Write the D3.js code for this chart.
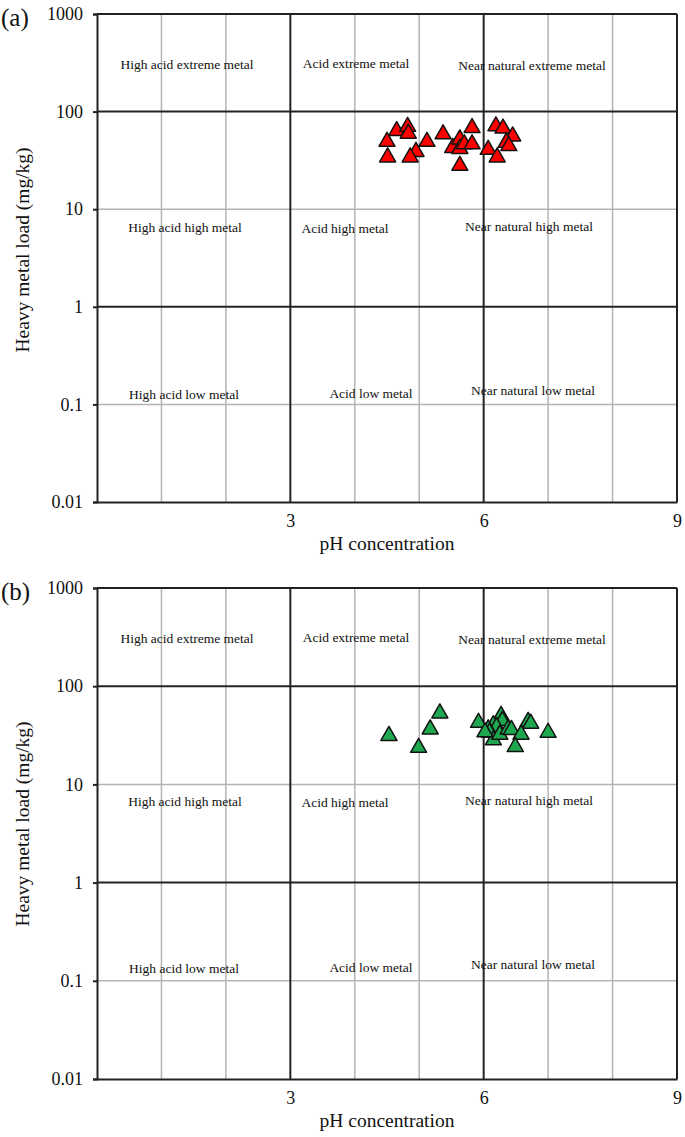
<!DOCTYPE html>
<html>
<head>
<meta charset="utf-8">
<script src="https://cdn.jsdelivr.net/npm/d3@7"></script>
<style>
  html, body { margin: 0; padding: 0; background: #fff; }
  svg { display: block; }
  text { font-family: "Liberation Serif", "Times New Roman", serif; fill: #111; }
</style>
</head>
<body>
<svg id="chart" width="685" height="1137"></svg>
<script>
// ---------------- data ----------------
const panelLetters = ["(a)", "(b)"];
const xTicks = [3, 6, 9];
const yTicks = [0.01, 0.1, 1, 10, 100, 1000];
const yTickLabels = ["0.01", "0.1", "1", "10", "100", "1000"];
const xMinorGrid = [1, 2, 4, 5, 7, 8];
const xMajorGrid = [3, 6, 9];
const yMinorGrid = [0.1, 10];
const yMajorGrid = [1, 100, 1000];
const xTitle = "pH concentration";
const yTitle = "Heavy metal load (mg/kg)";

const zoneLabels = [
  "High acid extreme metal", "Acid extreme metal", "Near natural extreme metal",
  "High acid high metal", "Acid high metal", "Near natural high metal",
  "High acid low metal", "Acid low metal", "Near natural low metal"
];

// panel (a) - red
const phA =    [4.50, 4.51, 4.65, 4.82, 4.83, 4.95, 4.86, 5.12, 5.37, 5.52, 5.63, 5.63, 5.63, 5.70, 5.82, 5.82, 6.19, 6.30, 6.45, 6.35, 6.39, 6.07, 6.21];
const metalA = [52,   36,   67,   74,   63,   41,   36,   52,   62,   45,   55,   44,   29.5, 49,   72,   49,   75,   71,   59,   51,   47,   43,   36];

// panel (b) - green
const phB =    [4.53, 4.99, 5.17, 5.32, 5.92, 6.27, 6.29, 6.15, 6.20, 6.07, 6.09, 6.15, 6.25, 6.38, 6.43, 6.69, 6.73, 6.58, 6.49, 7.00, 6.02];
const metalB = [33,   25,   38.5, 56,   45,   53,   47,   42.5, 40.6, 38.5, 35.6, 29.8, 34,   38.5, 38,   46,   44,   34,   25.5, 35.6, 36];

// ---------------- layout ----------------
const svg = d3.select("#chart");
const left = 97, right = 677;
const panels = [
  { top: 14,  bottom: 502,  ph: phA, metal: metalA, fill: "#ff0000" },
  { top: 588, bottom: 1079, ph: phB, metal: metalB, fill: "#1fa750" }
];
// zone label placement: [x in px, offset from top]
const zonePos = [
  [187, 50], [356, 49], [532, 51],
  [185, 213], [345, 214], [529, 212],
  [184, 380], [371, 379], [533, 376]
];

const triPath = (() => {
  const p = d3.path();
  p.moveTo(0, -7); p.lineTo(8, 7); p.lineTo(-8, 7); p.closePath();
  return p.toString();
})();

panels.forEach((P, i) => {
  const g = svg.append("g");
  const x = d3.scaleLinear().domain([0, 9]).range([left, right]);
  const y = d3.scaleLog().domain([0.01, 1000]).range([P.bottom, P.top]);

  // minor grid
  g.selectAll(".vmin").data(xMinorGrid).join("line")
    .attr("x1", d => x(d)).attr("x2", d => x(d))
    .attr("y1", P.top).attr("y2", P.bottom)
    .attr("stroke", "#b4b4b4").attr("stroke-width", 1.5);
  g.selectAll(".hmin").data(yMinorGrid).join("line")
    .attr("x1", left).attr("x2", right)
    .attr("y1", d => y(d)).attr("y2", d => y(d))
    .attr("stroke", "#b4b4b4").attr("stroke-width", 1.5);
  // major grid
  g.selectAll(".vmaj").data(xMajorGrid).join("line")
    .attr("x1", d => x(d)).attr("x2", d => x(d))
    .attr("y1", P.top).attr("y2", P.bottom)
    .attr("stroke", "#222").attr("stroke-width", 2);
  g.selectAll(".hmaj").data(yMajorGrid).join("line")
    .attr("x1", left).attr("x2", right)
    .attr("y1", d => y(d)).attr("y2", d => y(d))
    .attr("stroke", "#222").attr("stroke-width", 2);

  // y axis
  const yAxis = d3.axisLeft(y).tickValues(yTicks)
    .tickFormat((d, k) => yTickLabels[k]).tickSize(4).tickPadding(10);
  const ya = g.append("g").attr("transform", `translate(${left},0)`).call(yAxis);
  ya.select(".domain").attr("stroke", "#222").attr("stroke-width", 2);
  ya.selectAll(".tick line").attr("stroke", "#222").attr("stroke-width", 2);
  ya.selectAll(".tick text").style("font-family", "Liberation Serif, serif")
    .style("font-size", "18px").attr("fill", "#111");

  // x axis
  const xAxis = d3.axisBottom(x).tickValues(xTicks).tickSize(0).tickPadding(12);
  const xa = g.append("g").attr("transform", `translate(0,${P.bottom})`).call(xAxis);
  xa.select(".domain").attr("stroke", "#222").attr("stroke-width", 2);
  xa.selectAll(".tick text").style("font-family", "Liberation Serif, serif")
    .style("font-size", "18px").attr("fill", "#111");

  // zone labels
  g.selectAll(".zone").data(zoneLabels).join("text")
    .attr("x", (d, k) => zonePos[k][0])
    .attr("y", (d, k) => P.top + zonePos[k][1] + 5)
    .attr("text-anchor", "middle")
    .style("font-size", "13.5px")
    .text(d => d);

  // points
  g.selectAll(".pt").data(P.ph.map((v, k) => [v, P.metal[k]])).join("path")
    .attr("d", triPath)
    .attr("transform", d => `translate(${x(d[0])},${y(d[1])})`)
    .attr("fill", P.fill).attr("stroke", "#111").attr("stroke-width", 1.5)
    .attr("stroke-linejoin", "round");

  // titles
  g.append("text").attr("x", (left + right) / 2).attr("y", P.bottom + 48)
    .attr("text-anchor", "middle").style("font-size", "19.5px").text(xTitle);
  const cy = P.top + 236;
  g.append("text").attr("transform", `translate(29,${cy}) rotate(-90)`)
    .attr("text-anchor", "middle").style("font-size", "19.5px").text(yTitle);

  // panel letter
  g.append("text").attr("x", 1).attr("y", P.top + 12)
    .style("font-size", "25px").text(panelLetters[i]);
});
</script>
</body>
</html>
